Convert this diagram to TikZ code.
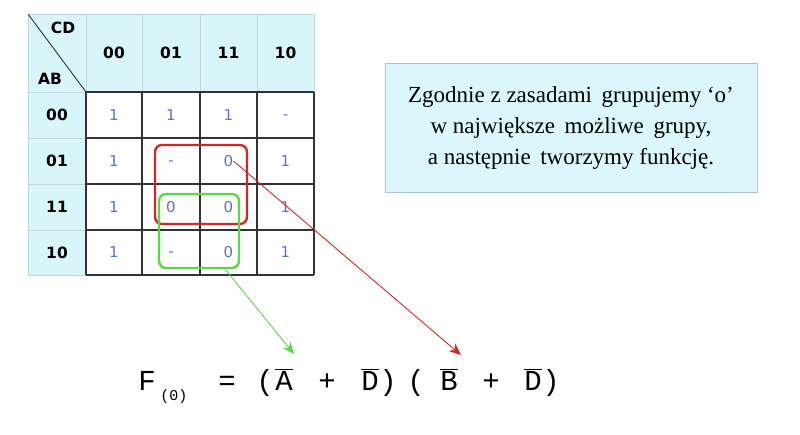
\documentclass[tikz,border=0pt]{standalone}
\usepackage{fontspec}
\setmainfont{Liberation Serif}
\newfontfamily\kfont{DejaVu Sans}
\newfontfamily\mfont{Liberation Mono}
\usetikzlibrary{arrows.meta}
\definecolor{hdr}{HTML}{D8F6FA}
\definecolor{hline}{HTML}{BFD6DE}
\definecolor{gridc}{HTML}{333333}
\definecolor{val}{HTML}{5A74C8}
\definecolor{grpred}{HTML}{D02828}
\definecolor{grpgreen}{HTML}{5AD848}
\definecolor{boxfill}{HTML}{DCF7FB}
\definecolor{boxline}{HTML}{A9C7D3}
\tikzset{
  hlab/.style={font=\kfont\bfseries\fontsize{15.5}{17}\selectfont, text=black, inner sep=0pt},
  cval/.style={font=\kfont\fontsize{15}{17}\selectfont, text=val, inner sep=0pt},
  grp/.style={rounded corners=7pt, line width=2.4pt},
  ftxt/.style={font=\mfont\fontsize{29}{31}\selectfont, inner sep=0pt, anchor=base},
  arr/.style={line width=0.9pt, -{Stealth[length=12pt,width=10pt]}},
}
\begin{document}
\begin{tikzpicture}[x=1pt,y=-1pt]
\useasboundingbox (0,0) rectangle (800,434);
\fill[white] (0,0) rectangle (800,434);
% header fills
\fill[hdr] (28,14) rectangle (314,92);
\fill[hdr] (28,92) rectangle (86,275);
% light header lines
\draw[hline, line width=1pt] (28,14) -- (314,14);
\draw[hline, line width=1pt] (28,14) -- (28,275) -- (86,275);
\foreach \x in {86,142,200,257,314} \draw[hline, line width=1pt] (\x,14) -- (\x,92);
\foreach \y in {92,138,184,230} \draw[hline, line width=1pt] (28,\y) -- (86,\y);
% body grid
\foreach \x in {86,142,200,257,314} \draw[gridc, line width=1.3pt] (\x,92) -- (\x,275);
\foreach \y in {92,138,184,230,275} \draw[gridc, line width=1.3pt] (86,\y) -- (314,\y);
% corner
\draw[black!80, line width=0.9pt] (28,14) -- (86,92);
\node[hlab] (cd) at (63,28) {CD};
\node[hlab] (ab) at (50,79) {AB};
% column headers
\node[hlab] (h00) at (114,53) {00};
\node[hlab] (h01) at (171,53) {01};
\node[hlab] (h11) at (228.5,53) {11};
\node[hlab] (h10) at (285.5,53) {10};
% row headers
\node[hlab] (r00) at (57,115) {00};
\node[hlab] (r01) at (57,161) {01};
\node[hlab] (r11) at (57,207) {11};
\node[hlab] (r10) at (57,252.5) {10};
% values
\node[cval] (v00a) at (114,115) {1};
\node[cval] (v00b) at (171,115) {1};
\node[cval] (v00c) at (228.5,115) {1};
\node[cval] (v00d) at (285.5,117) {-};
\node[cval] (v01a) at (114,161) {1};
\node[cval] (v01b) at (171,163) {-};
\node[cval] (v01c) at (228.5,161) {0};
\node[cval] (v01d) at (285.5,161) {1};
\node[cval] (v11a) at (114,207) {1};
\node[cval] (v11b) at (171,207) {0};
\node[cval] (v11c) at (228.5,207) {0};
\node[cval] (v11d) at (285.5,207) {1};
\node[cval] (v10a) at (114,252.5) {1};
\node[cval] (v10b) at (171,254.5) {-};
\node[cval] (v10c) at (228.5,252.5) {0};
\node[cval] (v10d) at (285.5,252.5) {1};
% groups
\draw[grp, grpred] (155,145) rectangle (247,224);
\draw[grp, grpgreen] (159,194) rectangle (239,268);
\coordinate (gbot) at (225,269);
% text box
\node[draw=boxline, fill=boxfill, line width=1pt, minimum width=372pt, minimum height=129pt, inner sep=0pt,
      align=center, font=\fontsize{23}{31}\selectfont] (note) at (571,127.5)
  {Zgodnie z zasadami\, grupujemy ‘o’\\w największe\, możliwe\, grupy,\\a następnie\, tworzymy funkcję.};
% formula
\node[ftxt] (F) at (147,390) {F};
\node[font=\mfont\fontsize{15}{17}\selectfont, inner sep=0pt, anchor=base] (sub) at (174,400) {(0)};
\node[ftxt] (eq) at (227,390) {=};
\node[ftxt] (p1) at (265,390) {(};
\node[ftxt] (A) at (284,390) {$\overline{\hbox{A}}$};
\node[ftxt] (pl1) at (327,390) {+};
\node[ftxt] (D1) at (370,390) {$\overline{\hbox{D}}$};
\node[ftxt] (p2) at (388,390) {)};
\node[ftxt] (p3) at (416,390) {(};
\node[ftxt] (B) at (449,390) {$\overline{\hbox{B}}$};
\node[ftxt] (pl2) at (491,390) {+};
\node[ftxt] (D2) at (533,390) {$\overline{\hbox{D}}$};
\node[ftxt] (p4) at (551,390) {)};
\coordinate (gtip) at (294,354);
\coordinate (rtip) at (461,355);
% arrows
\draw[arr, grpgreen] (gbot) -- (gtip);
\draw[arr, grpred] (v01c.east) -- (rtip);
\end{tikzpicture}
\end{document}
